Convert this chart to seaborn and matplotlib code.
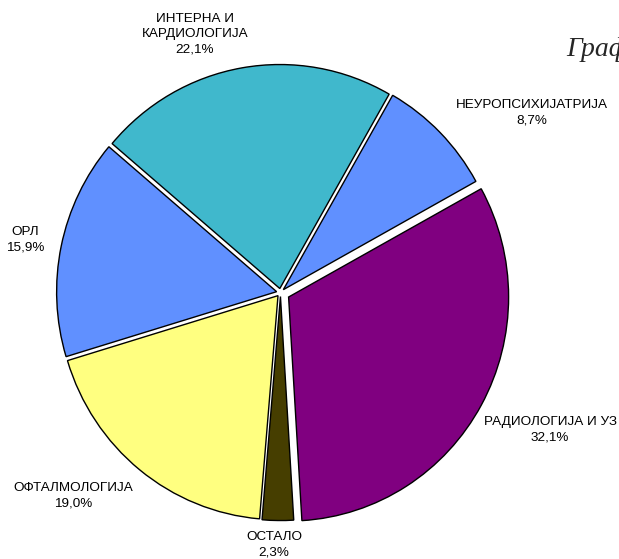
import matplotlib.pyplot as plt
import seaborn as sns

# data
labels = ["НЕУРОПСИХИЈАТРИЈА", "РАДИОЛОГИЈА И УЗ", "ОСТАЛО", "ОФТАЛМОЛОГИЈА", "ОРЛ", "ИНТЕРНА И\nКАРДИОЛОГИЈА"]
values = [8.7, 32.1, 2.3, 19.0, 15.9, 22.1]
pct_text = ["8,7%", "32,1%", "2,3%", "19,0%", "15,9%", "22,1%"]
colors = ["#6090FF", "#800080", "#463E00", "#FFFF80", "#6090FF", "#40B8CC"]
explode = [0.018, 0.042, 0.018, 0.018, 0.018, 0.018]

# label centres in pixels (x, y from top)
label_px = [(532, 113), (550, 430), (274, 545), (73, 496), (25, 240), (195, 34)]

sns.set_style("white")
plt.rcParams["font.family"] = ["Liberation Sans", "DejaVu Sans"]

W, H = 619, 559
cx, cy = 280.5, 292.5
sx, sy = 220.0, 224.0

fig = plt.figure(figsize=(W / 100, H / 100), dpi=100)
ax = fig.add_axes([0, 0, 1, 1])
ax.pie(values, colors=colors, explode=explode, startangle=60.2, counterclock=False,
       radius=1, wedgeprops=dict(edgecolor="black", linewidth=1.0))
ax.set_aspect("auto")
ax.set_xlim(-cx / sx, (W - cx) / sx)
ax.set_ylim(-(H - cy) / sy, cy / sy)
ax.axis("off")

for lab, p, (px, py) in zip(labels, pct_text, label_px):
    ax.text((px - cx) / sx, (cy - py) / sy, lab + "\n" + p, ha="center", va="center",
            fontsize=9.7, linespacing=1.35, color="black")

fig.text(566 / W, 1 - 56 / H, "Графикон", family="Liberation Serif", style="italic",
         fontsize=20, ha="left", va="baseline")

fig.savefig("out.png", dpi=100, facecolor="white")
